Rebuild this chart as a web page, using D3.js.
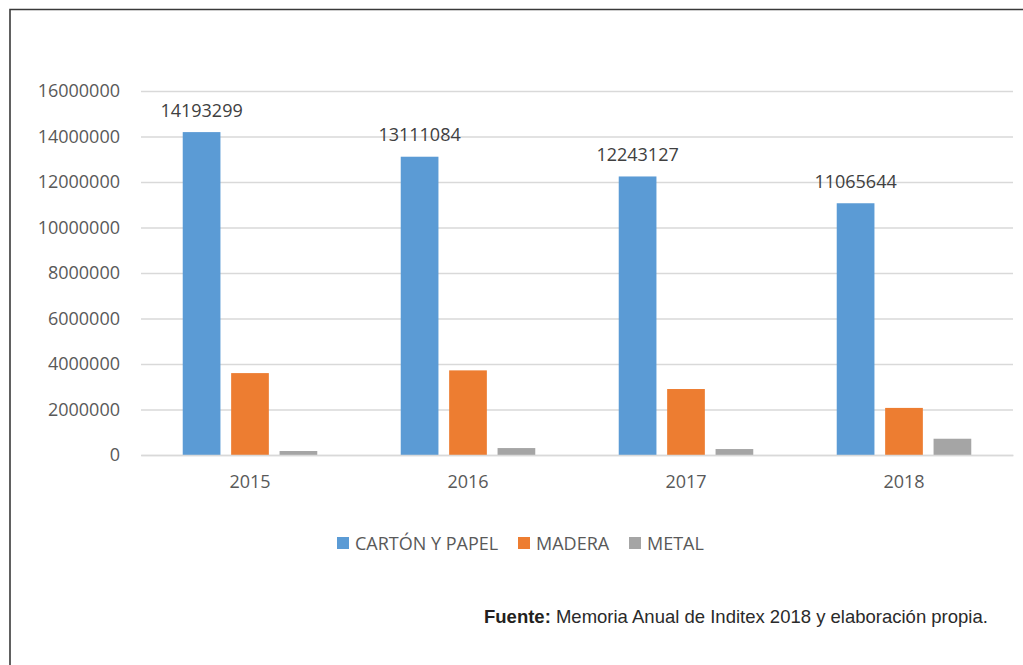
<!DOCTYPE html>
<html><head><meta charset="utf-8">
<script src="https://cdn.jsdelivr.net/npm/d3@7"></script>
<style>body{margin:0;background:#fff}svg{display:block}</style>
</head><body>
<svg id="c" width="1023" height="665"></svg>
<script>
const years = ["2015","2016","2017","2018"];
const seriesNames = ["CARTÓN Y PAPEL","MADERA","METAL"];
const carton = [14193299,13111084,12243127,11065644];
const madera = [3600000,3720000,2900000,2070000];
const metal = [175000,305000,262000,715000];
const yTicks = [0,2000000,4000000,6000000,8000000,10000000,12000000,14000000,16000000];
const colors = ["#5b9bd5","#ed7d31","#a5a5a5"];
const values = [carton, madera, metal];

const svg = d3.select("#c");
const mLeft = 141, mRight = 1013, mTop = 91, mBottom = 455;

// frame
svg.append("path").attr("d","M10,670 L10,9.5 L1030,9.5").attr("fill","none").attr("stroke","#3a3a3a").attr("stroke-width",1.6);

const x0 = d3.scaleBand().domain(years).range([mLeft,mRight]).paddingInner(0).paddingOuter(0);
const x1 = d3.scaleBand().domain(seriesNames).range([0,x0.bandwidth()]).paddingInner(0.221).paddingOuter(0.862);
const y = d3.scaleLinear().domain([0,16000000]).range([mBottom,mTop]);

// grid
const yAxis = d3.axisLeft(y).tickValues(yTicks).tickSize(-(mRight-mLeft)).tickPadding(21).tickFormat(d=>String(d));
const ga = svg.append("g").attr("transform",`translate(${mLeft},0)`).call(yAxis);
ga.select(".domain").remove();
ga.selectAll(".tick line").attr("stroke","#d9d9d9").attr("stroke-width",1.4);
ga.selectAll(".tick text").attr("fill","#595959").style("font-family","'Open Sans'").style("font-size","18px");

// bars
seriesNames.forEach((s,si)=>{
  svg.append("g").selectAll("rect").data(years).join("rect")
    .attr("x",d=>x0(d)+x1(s))
    .attr("width",x1.bandwidth())
    .attr("y",(d,i)=>y(values[si][i]))
    .attr("height",(d,i)=>mBottom-y(values[si][i]))
    .attr("fill",colors[si]);
});

// x axis baseline
const xAxis = d3.axisBottom(x0).tickSize(0).tickPadding(20);
const gx = svg.append("g").attr("transform",`translate(0,${mBottom})`).call(xAxis);
gx.select(".domain").attr("stroke","#d9d9d9").attr("stroke-width",1.6);
gx.selectAll(".tick text").attr("fill","#595959").style("font-family","'Open Sans'").style("font-size","18px");

// data labels
svg.append("g").selectAll("text").data(years).join("text")
  .attr("x",d=>x0(d)+x1(seriesNames[0])+x1.bandwidth()/2)
  .attr("y",(d,i)=>y(carton[i])-15.5)
  .attr("text-anchor","middle")
  .attr("fill","#404040")
  .style("font-family","'Open Sans'").style("font-size","18px")
  .text((d,i)=>carton[i]);

// legend
const legX = [337,518,629];
const lg = svg.append("g");
seriesNames.forEach((s,i)=>{
  lg.append("rect").attr("x",legX[i]).attr("y",537).attr("width",12).attr("height",12).attr("fill",colors[i]);
  lg.append("text").attr("x",legX[i]+18).attr("y",549.5).attr("fill","#595959")
    .style("font-family","'Open Sans'").style("font-size","18px").text(s);
});

// source
const src = svg.append("text").attr("x",484).attr("y",623).attr("fill","#231f20")
  .style("font-family","'Liberation Sans', Arial, sans-serif").style("font-size","18.5px");
src.append("tspan").attr("font-weight","bold").text("Fuente:");
src.append("tspan").attr("font-weight","normal").attr("fill","#2a2a2a").text(" Memoria Anual de Inditex 2018 y elaboración propia.");
</script>
</body></html>
